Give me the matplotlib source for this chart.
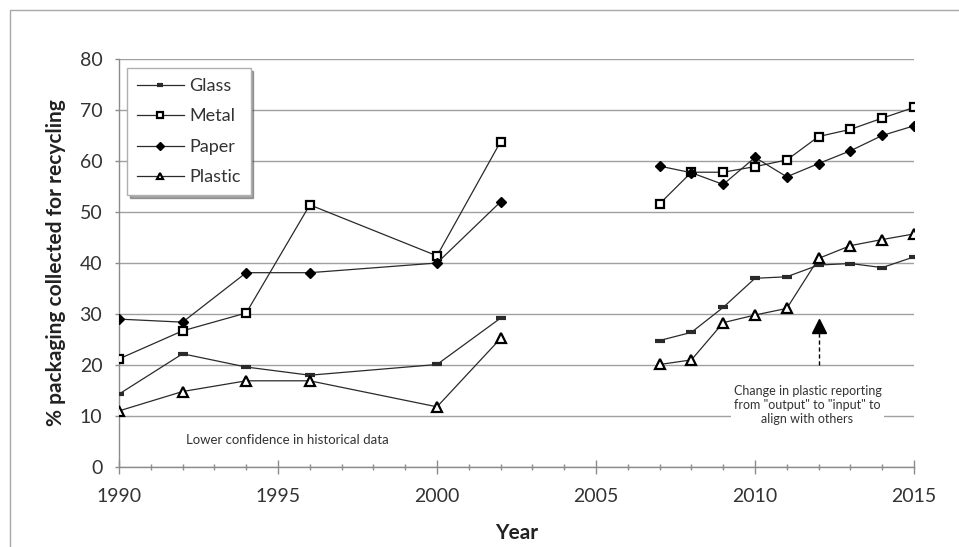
import matplotlib
matplotlib.use('Agg')
import matplotlib.pyplot as plt
from matplotlib.patches import Rectangle
from matplotlib.ticker import MultipleLocator

plt.rcParams['font.family'] = ['Lato', 'DejaVu Sans']

# ==================== data ====================
years_early = [1990, 1992, 1994, 1996, 2000, 2002]
years_late = [2007, 2008, 2009, 2010, 2011, 2012, 2013, 2014, 2015]

glass_early = [14.3, 22.2, 19.6, 18.0, 20.1, 29.2]
glass_late = [24.8, 26.4, 31.3, 37.0, 37.3, 39.6, 39.9, 39.1, 41.2]

metal_early = [21.2, 26.7, 30.2, 51.4, 41.4, 63.8]
metal_late = [51.6, 57.8, 57.8, 58.9, 60.2, 64.8, 66.2, 68.4, 70.5]

paper_early = [29.0, 28.4, 38.1, 38.1, 40.0, 52.0]
paper_late = [59.0, 57.7, 55.4, 60.7, 56.9, 59.5, 62.0, 65.0, 66.9]

plastic_early = [11.0, 14.8, 16.9, 16.9, 11.8, 25.2]
plastic_late = [20.1, 21.0, 28.3, 29.8, 31.1, 40.9, 43.4, 44.6, 45.7]

# annotation
change_year = 2012
arrow_from, arrow_to = 20, 29.5

LINE = '#2a2a2a'
GRID = '#a0a0a0'

fig = plt.figure(figsize=(9.59, 5.47), dpi=100)
ax = fig.add_axes([119 / 959, 1 - 467 / 547, (914 - 119) / 959, (467 - 59) / 547])

# outer chart border
fig.patches.append(Rectangle((10 / 959, -0.1), 1.2, 1.1 - 10 / 547, transform=fig.transFigure,
                             fill=False, edgecolor='#a8a8a8', linewidth=1.0, zorder=0))

styles = {
    'Glass': dict(marker='_', ms=7, mew=3, mfc=LINE, mec=LINE),
    'Metal': dict(marker='s', ms=6, mew=1.6, mfc='white', mec='black'),
    'Paper': dict(marker='D', ms=5.5, mew=1, mfc='black', mec='black'),
    'Plastic': dict(marker='^', ms=7, mew=1.6, mfc='white', mec='black'),
}
series = [
    ('Glass', glass_early, glass_late),
    ('Metal', metal_early, metal_late),
    ('Paper', paper_early, paper_late),
    ('Plastic', plastic_early, plastic_late),
]
for name, early, late in series:
    ax.plot(years_early, early, color=LINE, lw=0.9, label=name, zorder=3, **styles[name])
    ax.plot(years_late, late, color=LINE, lw=0.9, zorder=3, **styles[name])

ax.set_xlim(1990, 2015)
ax.set_ylim(0, 80)
ax.xaxis.set_major_locator(MultipleLocator(5))
ax.xaxis.set_minor_locator(MultipleLocator(1))
ax.yaxis.set_major_locator(MultipleLocator(10))

ax.grid(axis='y', color=GRID, lw=1.0)
ax.set_axisbelow(True)
for s in ['top', 'right']:
    ax.spines[s].set_visible(False)
for s in ['left', 'bottom']:
    ax.spines[s].set_color('#8c8c8c')
    ax.spines[s].set_linewidth(1.0)

ax.tick_params(axis='x', which='major', direction='inout', length=10, width=1, color='#8c8c8c',
               labelsize=14, pad=10)
ax.tick_params(axis='x', which='minor', direction='inout', length=5, width=1, color='#8c8c8c')
ax.tick_params(axis='y', which='major', direction='out', length=3, width=1, color='#8c8c8c',
               labelsize=14, pad=9)
for lab in ax.get_xticklabels() + ax.get_yticklabels():
    lab.set_color('#333333')

ax.set_xlabel('Year', fontsize=15, fontweight='bold', color='#222222', labelpad=13)
ax.set_ylabel('% packaging collected for recycling', fontsize=15, fontweight='bold',
              color='#222222', labelpad=10)

# change-of-reporting arrow
ax.plot([change_year, change_year], [arrow_from, arrow_to - 1.5], color='black', lw=1, ls=(0, (3, 2)),
        zorder=4)
ax.plot([change_year], [arrow_to - 1.8], marker='^', ms=10, color='black', zorder=4)

ax.text(2011.65, 12.2, 'Change in plastic reporting\nfrom "output" to "input" to\nalign with others',
        ha='center', va='center', fontsize=9, color='#333333', linespacing=1.2,
        bbox=dict(facecolor='white', edgecolor='none', pad=2), zorder=5)
ax.text(1995.3, 5.3, 'Lower confidence in historical data', ha='center', va='center',
        fontsize=9.5, color='#333333')

leg = ax.legend(loc='upper left', bbox_to_anchor=(8 / 795, 1 - 9 / 408), fontsize=13,
                frameon=True, fancybox=False, shadow=True, handlelength=2.6, labelspacing=0.8,
                borderpad=0.55, handletextpad=0.3, borderaxespad=0, markerscale=0.7)
leg.get_frame().set_edgecolor('#b0b0b0')
leg.get_frame().set_linewidth(1.0)
for t in leg.get_texts():
    t.set_color('#333333')

fig.savefig('out.png', dpi=100)
